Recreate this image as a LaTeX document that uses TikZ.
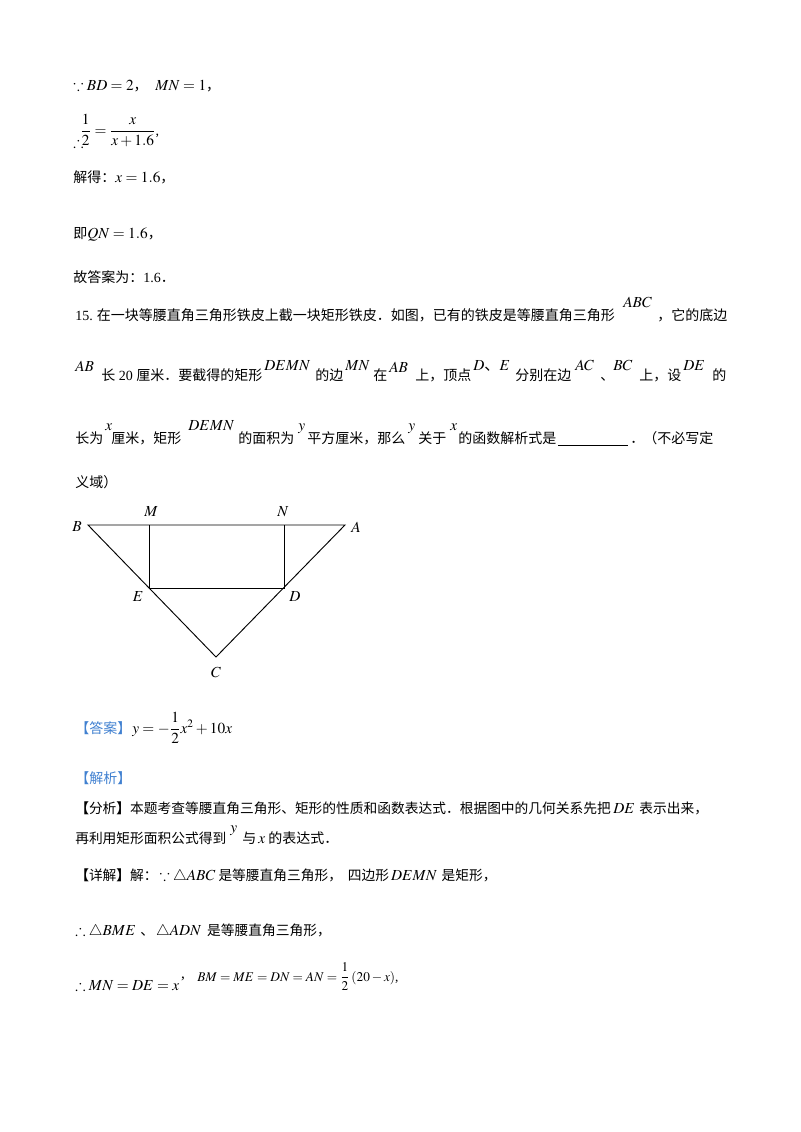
\documentclass[tikz,border=0pt]{standalone}
\usepackage{amsmath}
\usepackage{amssymb}
\usepackage{mathptmx}
\usepackage{fontspec}
\setmainfont{Liberation Serif}
\newfontfamily\cjk{Noto Sans CJK SC}
\usepackage{xcolor}
\definecolor{ansblue}{RGB}{64,128,208}
\DeclareMathSizes{10.5}{11.5}{8.5}{6.5}
\DeclareMathSizes{10.3}{11.5}{8.5}{6.5}

\begin{document}
\begin{tikzpicture}[x=0.75pt,y=-0.75pt,
  txt/.style={anchor=base west,inner sep=0pt,font=\cjk\fontsize{10.5pt}{12pt}\selectfont},
  tight/.style={txt,font=\cjk\fontsize{10.3pt}{12pt}\selectfont},
  up/.style={anchor=base west,inner sep=0pt,font=\fontsize{11.5pt}{12pt}\selectfont},
  lbl/.style={inner sep=0pt,font=\fontsize{11.5pt}{12pt}\selectfont}]
\useasboundingbox (0,0) rectangle (800,1132);

% end of problem 14
\node[txt] (ea) at (73,90) {$\because BD=2$，};
\node[txt] (eb) at (155,90) {$MN=1$，};
\node[txt] (ec) at (73,147) {$\therefore$};
\node[txt] (ed) at (80,135) {$\dfrac{1}{2}=\dfrac{x}{x+1.6}${\rmfamily,}};
\node[txt] (ee) at (73,182) {解得：$x=1.6$，};
\node[txt] (ef) at (73,238) {即$QN=1.6$，};
\node[txt] (eg) at (73,282) {故答案为：{\rmfamily 1.6}．};

% problem 15
\node[txt] (qa) at (75,320) {{\rmfamily 15.} 在一块等腰直角三角形铁皮上截一块矩形铁皮．如图，已有的铁皮是等腰直角三角形};
\node[up] (qb) at (623,307) {$ABC$};
\node[txt] (qc) at (657,320) {，它的底边};

\node[up] (qd) at (75,371) {$AB$};
\node[txt] (qe) at (101,380) {长{\rmfamily\ 20 }厘米．要截得的矩形};
\node[up] (qf) at (264,370) {$DEMN$};
\node[txt] (qg) at (315,380) {的边};
\node[up] (qh) at (345,370) {$MN$};
\node[txt] (qi) at (373,380) {在};
\node[up] (qj) at (389,372) {$AB$};
\node[txt] (qk) at (415,380) {上，顶点};
\node[up] (ql) at (473,370) {$D${\cjk 、}$E$};
\node[txt] (qm) at (515,380) {分别在边};
\node[up] (qn) at (575,370) {$AC$};
\node[txt] (qo) at (600,380) {、};
\node[up] (qp) at (613,370) {$BC$};
\node[txt] (qq) at (639,380) {上，设};
\node[up] (qr) at (683,370) {$DE$};
\node[txt] (qs) at (712,380) {的};

\node[txt] (qt) at (75,443) {长为};
\node[up] (qu) at (105,430) {$x$};
\node[txt] (qv) at (111,443) {厘米，矩形};
\node[up] (qw) at (188,430) {$DEMN$};
\node[txt] (qx) at (238,443) {的面积为};
\node[up] (qy) at (298,430) {$y$};
\node[txt] (qz) at (307,443) {平方厘米，那么};
\node[up] (ra) at (408,430) {$y$};
\node[txt] (rb) at (418,443) {关于};
\node[up] (rc) at (450,430) {$x$};
\node[txt] (rd) at (458,443) {的函数解析式是};
\draw[line width=0.6pt] (558,445) -- (628,445);
\node[txt] (re) at (630,443) {．};
\node[txt] (rf) at (643,443) {（不必写定};
\node[txt] (rg) at (75,487) {义域）};

% figure
\coordinate (B) at (88,525);
\coordinate (A) at (345,525);
\coordinate (M) at (149,525);
\coordinate (N) at (284,525);
\coordinate (E) at (149,588);
\coordinate (D) at (284,588);
\coordinate (C) at (216,657);
\draw[line width=0.7pt] (B) -- (A) -- (C) -- cycle;
\draw[line width=0.7pt] (M) -- (E) -- (D) -- (N);
\node[lbl] (lB) at (77,527) {$B$};
\node[lbl] (lM) at (151,512) {$M$};
\node[lbl] (lN) at (283,512) {$N$};
\node[lbl] (lA) at (356,527) {$A$};
\node[lbl] (lE) at (138,597) {$E$};
\node[lbl] (lD) at (295,597) {$D$};
\node[lbl] (lC) at (216,672) {$C$};

% answer and solution
\node[txt,text=ansblue] (sa) at (75,733) {【答案】};
\node[txt] (sb) at (132,733) {$y=-\dfrac{1}{2}x^2+10x$};
\node[txt,text=ansblue] (sc) at (75,783) {【解析】};

\node[tight] (sd) at (75,813) {\textbf{【}分析\textbf{】}本题考查等腰直角三角形、矩形的性质和函数表达式．根据图中的几何关系先把};
\node[up] (se) at ([xshift=1.5pt]sd.base east) {$DE$};
\node[tight] (sf) at ([xshift=3pt]se.base east) {表示出来，};
\node[tight] (sg) at (75,843) {再利用矩形面积公式得到};
\node[up] (sh) at (230,832) {$y$};
\node[txt] (si) at (242,843) {与};
\node[up] (sj) at (258,843) {$x$};
\node[txt] (sk) at (268,843) {的表达式．};

\node[tight] (sl) at (75,880) {\textbf{【}详解\textbf{】}解：};
\node[up] (sm) at ([xshift=1pt]sl.base east) {$\because\triangle ABC$};
\node[tight] (sn) at ([xshift=2pt]sm.base east) {是等腰直角三角形，};
\node[tight] (so) at ([xshift=4pt]sn.base east) {四边形};
\node[up] (sp) at ([xshift=1pt]so.base east) {$DEMN$};
\node[tight] (sq) at ([xshift=3pt]sp.base east) {是矩形，};

\node[up] (sr) at (75,935) {$\therefore\triangle BME$};
\node[txt] (ss) at ([xshift=3pt]sr.base east) {、};
\node[up] (st) at ([xshift=1pt]ss.base east) {$\triangle ADN$};
\node[tight] (su) at ([xshift=4pt]st.base east) {是等腰直角三角形，};

\node[up] (sv) at (75,990) {$\therefore MN=DE=x$};
\node[up] (sw) at ([xshift=1pt,yshift=9pt]sv.base east) {,};
\node[txt,font=\fontsize{10pt}{12pt}\selectfont] (sx) at (197,981) {$BM=ME=DN=AN=\dfrac{1}{2}\left(20-x\right)${\rmfamily,}};
\end{tikzpicture}
\end{document}
